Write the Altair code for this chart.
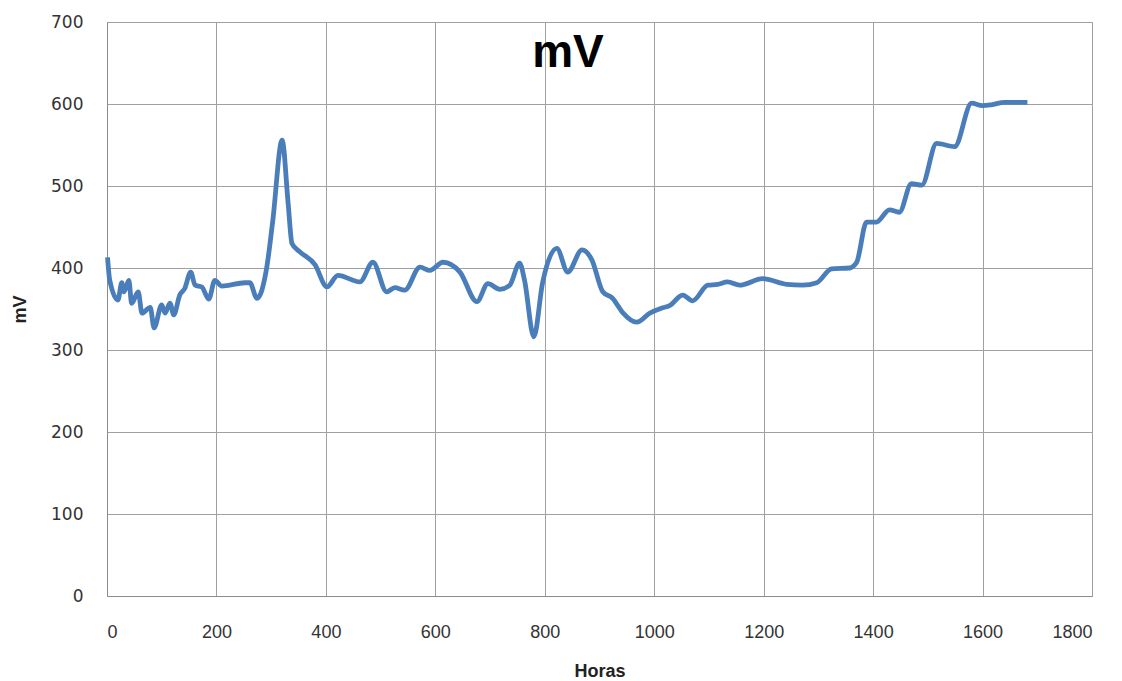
import altair as alt
import pandas as pd

# Hours of exposure and the measured potential (mV)
horas = [1, 5, 20, 27, 31, 40, 45, 57, 64, 79, 86, 100, 106, 115, 122, 133, 142,
         153, 161, 173, 186, 197, 210, 252, 261, 274, 292, 303, 320, 331, 338, 352,
         380, 402, 422, 462, 486, 511, 526, 544, 572, 590, 614, 645, 676, 696, 718,
         736, 754, 763, 780, 796, 822, 842, 868, 886, 906, 924, 942, 968, 992, 1013,
         1028, 1052, 1070, 1098, 1116, 1134, 1156, 1198, 1242, 1271, 1297, 1324,
         1357, 1370, 1388, 1406, 1430, 1448, 1470, 1489, 1516, 1549, 1580, 1600,
         1616, 1640, 1682]
mv = [413, 385, 361, 382, 371, 385, 357, 371, 345, 352, 327, 355, 345, 357, 343,
      367, 375, 395, 379, 377, 362, 385, 378, 382, 382, 363, 401, 458, 556, 479,
      430, 420, 404, 377, 391, 383, 407, 371, 376, 373, 401, 397, 407, 395, 359,
      381, 374, 379, 406, 385, 316, 382, 424, 395, 422, 410, 371, 363, 346, 334,
      345, 351, 354, 367, 360, 379, 380, 383, 379, 387, 380, 379, 382, 399, 400,
      407, 456, 456, 471, 468, 503, 501, 552, 548, 601, 598, 599, 602, 602]

x_ticks = list(range(0, 1801, 200))
y_ticks = list(range(0, 701, 100))

df = pd.DataFrame({"Horas": horas, "mV": mv})

grid_color = "#a0a0a0"

line = alt.Chart(df).mark_line(
    interpolate="monotone", color="#4A7EBB", strokeWidth=4.8
).encode(
    x=alt.X(
        "Horas:Q",
        scale=alt.Scale(domain=[0, 1800], nice=False),
        axis=alt.Axis(
            values=x_ticks, format="d", title="Horas", grid=True,
            gridColor=grid_color, gridWidth=1, ticks=False, domain=True,
            domainColor="#8c8c8c",
            labelFont="Liberation Sans Narrow, Liberation Sans", labelFontSize=18,
            labelColor="#333333", labelPadding=27,
            titleFont="Liberation Sans", titleFontSize=18, titleFontWeight="bold",
            titleColor="#222222", titlePadding=21,
        ),
    ),
    y=alt.Y(
        "mV:Q",
        scale=alt.Scale(domain=[0, 700], nice=False),
        axis=alt.Axis(
            values=y_ticks, title="mV", grid=True, gridColor=grid_color,
            gridWidth=1, ticks=False, domain=True, domainColor="#8c8c8c",
            labelFont="DejaVu Sans", labelFontSize=17, labelColor="#333333",
            labelPadding=24,
            titleFont="Liberation Sans", titleFontSize=18, titleFontWeight="bold",
            titleColor="#222222", titlePadding=21,
        ),
    ),
)

title = alt.Chart(pd.DataFrame({"t": ["mV"]})).mark_text(
    font="Liberation Sans", fontSize=46, fontWeight="bold", color="#000000",
    align="center", baseline="middle",
).encode(text="t:N", x=alt.value(461), y=alt.value(31))

chart = alt.layer(line, title).properties(
    width=985, height=574,
    padding={"left": 107, "top": 22, "right": 30, "bottom": 85},
    autosize=alt.AutoSizeParams(type="none"),
    background="white",
).configure_view(stroke="#a0a0a0", strokeWidth=1)

chart.save("out.html", embed_options={"renderer": "svg", "actions": False})
